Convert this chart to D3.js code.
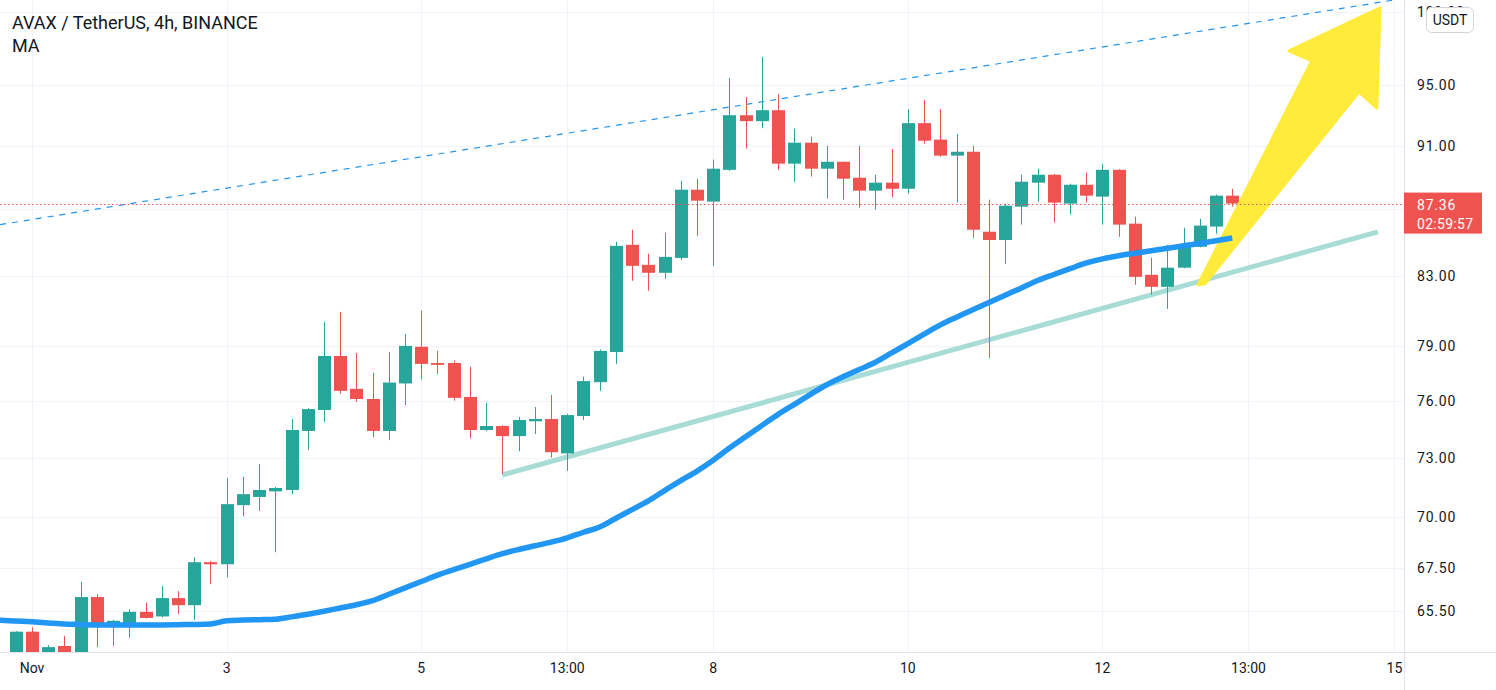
<!DOCTYPE html>
<html><head><meta charset="utf-8">
<script src="https://cdn.jsdelivr.net/npm/d3@7"></script>
<style>html,body{margin:0;padding:0;background:#fff;overflow:hidden}svg{display:block}</style>
</head><body>
<svg id="c" width="1496" height="690"></svg>
<script>
// ---- data (4h candles, index 0 = Nov 1 01:00) ----
const firstIndex = -1;
const opens  = [63.40,64.55,63.60,63.90,63.60,66.15,64.95,64.95,65.46,65.25,66.10,65.77,67.80,67.70,70.59,71.00,71.28,71.35,74.39,75.50,78.44,76.64,76.09,74.39,76.93,78.95,78.05,78.05,76.20,74.44,74.65,74.12,74.90,75.02,73.22,75.18,77.00,78.66,84.85,83.66,83.19,84.07,88.22,87.48,89.47,92.99,92.60,93.32,89.86,91.20,89.54,89.98,88.97,88.16,88.66,88.28,92.47,91.40,90.37,90.62,85.64,85.14,87.17,88.66,89.16,87.36,88.53,87.79,89.47,86.13,83.07,82.37,83.49,84.73,85.95,87.85];
const highs  = [64.58,64.75,63.94,64.36,66.86,66.29,65.09,65.59,65.88,66.67,66.43,68.04,67.85,71.95,72.02,72.67,71.50,75.02,75.60,80.35,80.92,78.61,77.51,78.67,79.67,80.99,78.72,78.20,77.85,75.88,74.70,75.13,75.66,76.31,75.30,77.30,78.80,85.03,85.76,84.32,85.58,88.78,88.90,90.12,95.46,94.19,96.90,94.39,92.11,91.60,91.00,90.00,91.00,89.16,90.80,93.39,93.99,93.39,91.78,91.00,87.60,87.35,89.16,89.54,89.22,88.60,89.29,89.85,89.50,86.56,84.08,84.85,85.88,86.43,87.92,88.28];
const lows   = [63.20,63.30,63.50,63.50,63.50,63.85,63.90,64.27,65.15,65.20,65.36,65.09,66.75,67.08,70.04,70.30,68.28,71.14,73.39,74.86,76.37,75.93,74.07,73.91,75.77,77.15,77.45,76.00,74.00,74.38,72.16,73.33,74.23,73.00,72.32,74.97,76.53,78.00,82.72,82.14,82.84,83.95,85.39,83.60,89.40,90.82,92.14,89.47,88.72,89.04,87.67,87.60,87.11,86.99,87.73,87.97,91.14,90.30,87.42,85.27,78.33,83.72,86.07,87.48,86.20,86.69,87.42,86.07,85.33,82.49,81.91,81.09,83.45,84.70,85.52,87.17];
const closes = [64.55,63.50,63.85,63.60,66.15,64.86,65.05,65.46,65.18,66.10,65.77,67.80,67.70,70.64,71.14,71.35,71.45,74.44,75.55,78.44,76.53,76.09,74.39,76.98,79.00,78.00,77.95,76.15,74.44,74.65,74.12,74.97,75.02,73.28,75.23,77.06,78.72,84.79,83.60,83.19,84.13,88.22,87.54,89.54,92.99,92.60,93.32,89.86,91.20,89.54,89.98,88.91,88.16,88.66,88.28,92.47,91.33,90.37,90.62,85.76,85.14,87.23,88.72,89.16,87.42,88.53,87.85,89.47,86.07,82.95,82.37,83.49,84.79,86.01,87.85,87.36];
// moving average, starting one bar before the first visible candle (index -2)
const maFirstIndex = -2;
const maValues = [65.08,65.04,65.00,64.95,64.90,64.88,64.86,64.86,64.86,64.86,64.86,64.87,64.88,64.90,65.05,65.08,65.10,65.12,65.23,65.35,65.49,65.64,65.79,65.98,66.28,66.58,66.88,67.18,67.44,67.70,67.96,68.21,68.41,68.59,68.77,68.98,69.25,69.51,69.94,70.37,70.80,71.32,71.82,72.31,72.87,73.50,74.09,74.68,75.27,75.80,76.34,76.86,77.29,77.69,78.09,78.61,79.13,79.66,80.18,80.62,81.04,81.46,81.88,82.30,82.74,83.09,83.43,83.77,84.01,84.20,84.35,84.49,84.64,84.79,84.93,85.09,85.26];
// axis ticks (87.00 grid line exists but its label sits under the last-price tag)
const priceTicks = [65.5,67.5,70,73,76,79,83,87,91,95,100];
const hiddenPriceLabels = [87];
const timeTickIndex = [0,12,24,33,42,54,66,75,84];
const timeTickLabels = ["Nov","3","5","13:00","8","10","12","13:00","15"];
// drawings: [barIndex, price]
const dashedLine = [[-1.97,86.07],[84.6,101.0]];
const supportLine = [[28.98,72.11],[82.98,85.63]];
const arrowShape = [[71.89,82.49],[78.91,96.64],[77.50,97.32],[83.11,100.32],[82.92,93.46],[81.81,94.53],[72.32,82.55]];
const lastPrice = 87.36;
const countdown = "02:59:57";
const title = "AVAX / TetherUS, 4h, BINANCE";
const indicatorName = "MA";
const currency = "USDT";

// ---- layout ----
const W = 1496, H = 690, plotW = 1404, plotH = 652;
const svg = d3.select("#c");
const x = d3.scaleLinear().domain([-1.973, 84.59]).range([0, plotW]);
const y = d3.scaleLog().domain([63.63, 100.88]).range([plotH, 0]);
const step = x(1) - x(0);
const bodyW = Math.round(step * 0.8);

const candles = opens.map((o,k)=>({i:firstIndex+k,o,h:highs[k],l:lows[k],c:closes[k]}));
const ma = maValues.map((v,k)=>({i:maFirstIndex+k,v}));

svg.append("rect").attr("width",W).attr("height",H).attr("fill","#fff");
svg.append("clipPath").attr("id","pc").append("rect").attr("width",plotW).attr("height",plotH);

const grid = svg.append("g");
grid.selectAll(".hg").data(priceTicks).join("line")
  .attr("x1",0).attr("x2",plotW).attr("y1",d=>Math.round(y(d))+0.5).attr("y2",d=>Math.round(y(d))+0.5)
  .attr("stroke","#F0F3FA").attr("stroke-width",1);
grid.selectAll(".vg").data(timeTickIndex).join("line")
  .attr("y1",0).attr("y2",plotH).attr("x1",d=>Math.round(x(d))+0.5).attr("x2",d=>Math.round(x(d))+0.5)
  .attr("stroke","#F0F3FA").attr("stroke-width",1);

const plot = svg.append("g").attr("clip-path","url(#pc)");
const line = d3.line().x(d=>x(d[0])).y(d=>y(d[1]));

plot.append("path").attr("d",line(dashedLine)).attr("fill","none")
  .attr("stroke","#2196F3").attr("stroke-width",1.2).attr("stroke-dasharray","6,6");
plot.append("path").attr("d",line(supportLine)).attr("fill","none")
  .attr("stroke","#A8DCD6").attr("stroke-width",5);

// candles
const cg = plot.append("g");
const col = d=> d.c>=d.o ? "#26A69A" : "#EF5350";
cg.selectAll(".w").data(candles).join("line")
  .attr("x1",d=>Math.round(x(d.i))+0.5).attr("x2",d=>Math.round(x(d.i))+0.5)
  .attr("y1",d=>y(d.h)).attr("y2",d=>y(d.l)).attr("stroke",col).attr("stroke-width",1);
cg.selectAll(".b").data(candles).join("rect")
  .attr("x",d=>Math.round(x(d.i))+0.5-bodyW/2).attr("width",bodyW)
  .attr("y",d=>y(Math.max(d.o,d.c)))
  .attr("height",d=>Math.max(1,y(Math.min(d.o,d.c))-y(Math.max(d.o,d.c))))
  .attr("fill",col);

// arrow drawing
plot.append("path").attr("d",line(arrowShape)+"Z").attr("fill","#FFEB3B")
  .attr("stroke","#FFEB3B").attr("stroke-width",3).attr("stroke-linejoin","round");

// MA
plot.append("path").datum(ma).attr("fill","none").attr("stroke","#2196F3").attr("stroke-width",5.5)
  .attr("d",d3.line().x(d=>x(d.i)).y(d=>y(d.v)).curve(d3.curveMonotoneX));

// last price line
plot.append("line").attr("x1",0).attr("x2",plotW).attr("y1",Math.round(y(lastPrice))+0.5).attr("y2",Math.round(y(lastPrice))+0.5)
  .attr("stroke","#EF5350").attr("stroke-width",1).attr("stroke-dasharray","1.5,2.5");

// axes lines
svg.append("line").attr("x1",0).attr("x2",W).attr("y1",plotH+0.5).attr("y2",plotH+0.5).attr("stroke","#E0E3EB");
svg.append("line").attr("x1",plotW+0.5).attr("x2",plotW+0.5).attr("y1",0).attr("y2",H).attr("stroke","#E0E3EB");

const font = "Roboto, 'Noto Sans', sans-serif";
// price labels
svg.selectAll(".pl").data(priceTicks.filter(d=>!hiddenPriceLabels.includes(d))).join("text")
  .attr("x",plotW+13).attr("y",d=>y(d)+5).text(d=>d.toFixed(2))
  .attr("font-family",font).attr("font-size",14).attr("letter-spacing",0.8).attr("fill","#131722");
// time labels
svg.selectAll(".tl").data(timeTickIndex).join("text")
  .attr("x",d=>x(d)).attr("y",673).attr("text-anchor","middle").text((d,k)=>timeTickLabels[k])
  .attr("font-family",font).attr("font-size",14).attr("fill","#131722");

// last price label
const ly = y(lastPrice);
svg.append("rect").attr("x",plotW).attr("y",ly-11).attr("width",78).attr("height",41).attr("fill","#EF5350");
svg.append("text").attr("x",plotW+13).attr("y",ly+6).text(lastPrice.toFixed(2))
  .attr("font-family",font).attr("font-size",14).attr("letter-spacing",0.8).attr("fill","#fff");
svg.append("text").attr("x",plotW+13).attr("y",ly+25).text(countdown)
  .attr("font-family",font).attr("font-size",14).attr("letter-spacing",0.3).attr("fill","#fff");

// currency box
svg.append("rect").attr("x",1426.5).attr("y",7.5).attr("width",47).attr("height",25).attr("rx",5)
  .attr("fill","#fff").attr("stroke","#D1D4DC");
svg.append("text").attr("x",1450).attr("y",25).attr("text-anchor","middle").text(currency)
  .attr("font-family",font).attr("font-size",14).attr("fill","#131722");

// title
svg.append("text").attr("x",12).attr("y",29).text(title)
  .attr("font-family",font).attr("font-size",18).attr("fill","#131722");
svg.append("text").attr("x",12).attr("y",52).text(indicatorName)
  .attr("font-family",font).attr("font-size",18).attr("fill","#131722");
</script>
</body></html>
